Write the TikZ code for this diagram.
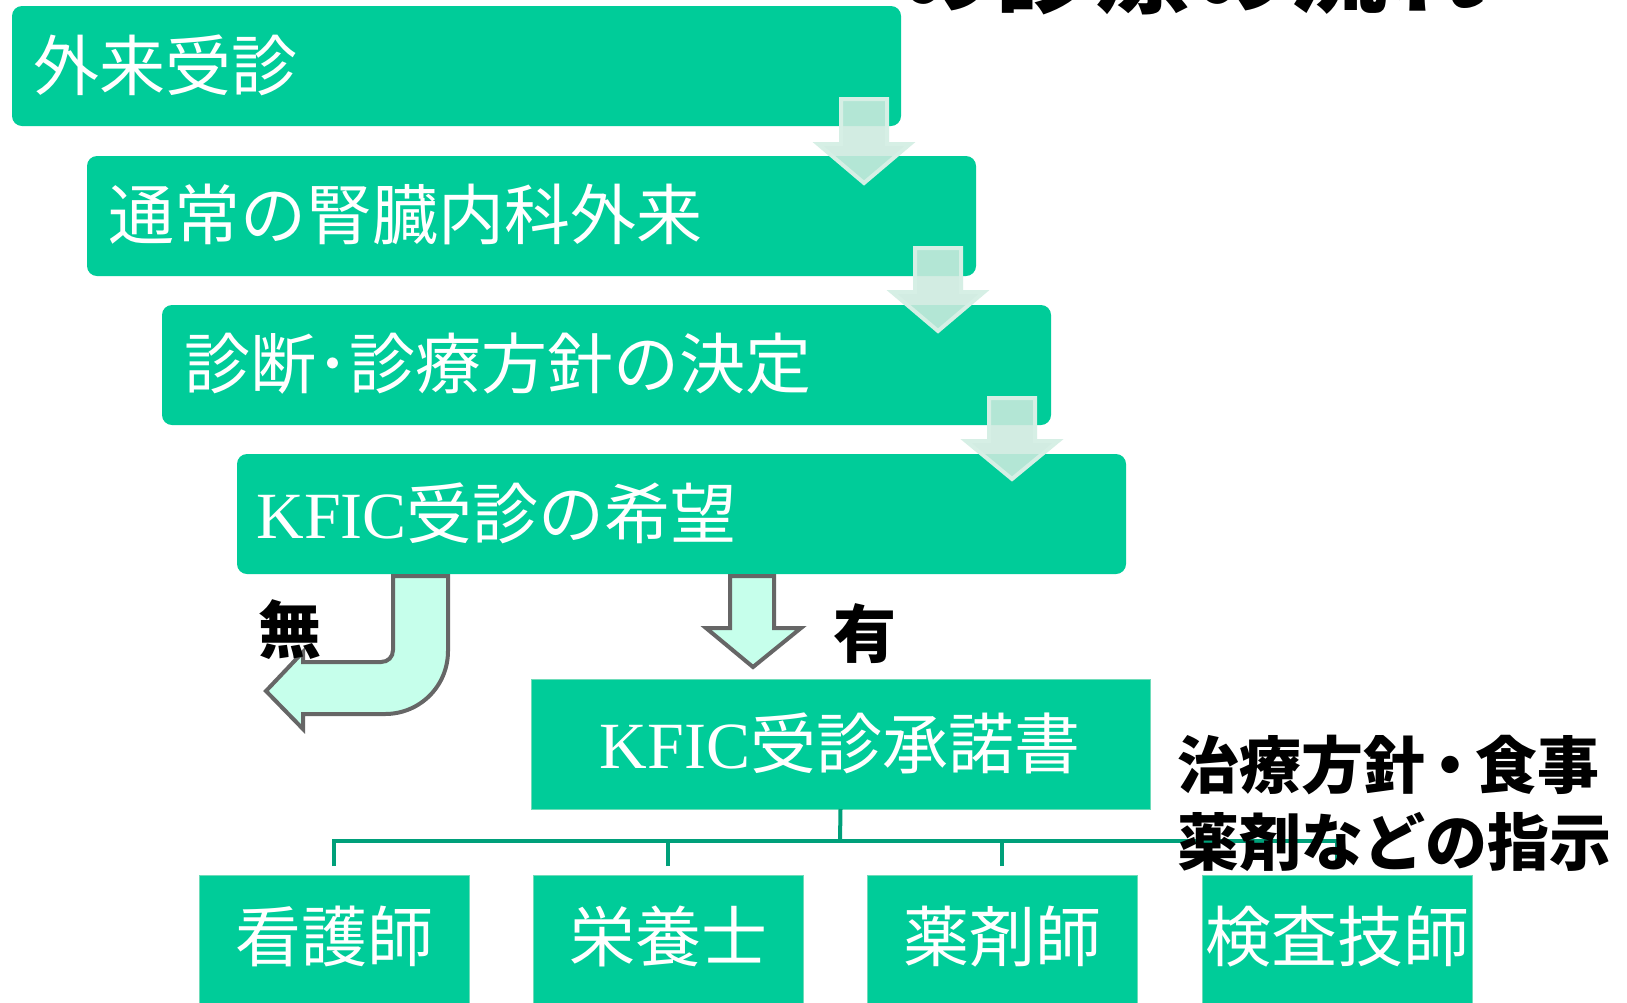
\documentclass[tikz,border=0pt]{standalone}
\usepackage{fontspec}
\newfontfamily\jp{Noto Sans CJK JP}
\newfontfamily\lat{Liberation Serif}
\definecolor{boxgreen}{RGB}{0,204,153}
\definecolor{boxedge}{RGB}{110,220,185}
\definecolor{linegreen}{RGB}{0,160,122}
\definecolor{flowfill}{RGB}{204,234,222}
\definecolor{flowedge}{RGB}{214,239,229}
\definecolor{mint}{RGB}{198,255,235}
\definecolor{arrowgray}{RGB}{102,102,102}
\newcommand\blockdownarrow[4]{%
  \path[flowarrow] (#1-23,#2) -- (#1+23,#2) -- (#1+23,#3) -- (#1+46,#3) -- (#1,#4) -- (#1-46,#3) -- (#1-23,#3) -- cycle;}
\newcommand\middot{\kern-0.1em・\kern-0.1em}
\begin{document}
\begin{tikzpicture}[x=0.5pt,y=-0.5pt,
  stepbox/.style={fill=boxgreen, rounded corners=5pt, draw=none, inner sep=0pt, outer sep=0pt,
    minimum width=444.5pt, minimum height=60pt, anchor=north west},
  flatbox/.style={fill=boxgreen, draw=boxedge, line width=0.5pt, inner sep=0pt, outer sep=0pt, anchor=north west},
  boxtext/.style={text=white, font=\jp\fontsize{33pt}{33pt}\selectfont, inner sep=0pt},
  blacklabel/.style={text=black, font=\jp\bfseries\fontsize{31.5pt}{31.5pt}\selectfont, inner sep=0pt},
  notetext/.style={text=black, font=\jp\bfseries\fontsize{31pt}{31pt}\selectfont, inner sep=0pt, anchor=base west},
  flowarrow/.style={fill=flowfill, fill opacity=0.88, draw=flowedge, line width=2pt, line join=miter},
  bigarrow/.style={fill=mint, draw=arrowgray, line width=2pt, line join=miter},
  conn/.style={draw=linegreen, line width=2pt}]
\useasboundingbox (0,0) rectangle (1627,1002);
\clip (0,0) rectangle (1627,1002);
\fill[white] (0,0) rectangle (1627,1002);

% clipped title
\node[anchor=base west, inner sep=0pt, font=\jp\bfseries\fontsize{49pt}{49pt}\selectfont] (title) at (897,5) {の診療の流れ};

% step boxes
\node[stepbox] (s1) at (12,6) {};
\node[stepbox] (s2) at (87,156) {};
\node[stepbox] (s3) at (162,305) {};
\node[stepbox] (s4) at (237,454) {};

\node[boxtext, anchor=base west] (s1t) at (33,90) {外来受診};
\node[boxtext, anchor=base west] (s2t) at (108,239) {通常の腎臓内科外来};
\node[boxtext, anchor=base west] (s3t) at (184,388) {診断･診療方針の決定};
\node[boxtext, anchor=base west] (s4t) at (256,538) {{\lat KFIC}受診の希望};

% flow arrows
\blockdownarrow{864}{99}{144}{183}
\blockdownarrow{938}{248}{292}{331}
\blockdownarrow{1012}{398}{441}{479}

% consent box
\node[flatbox, minimum width=309.5pt, minimum height=65pt] (s5) at (531,679) {};
\node[boxtext, anchor=base] (s5t) at (840,768) {{\lat KFIC}受診承諾書};

% staff boxes
\node[flatbox, minimum width=135pt, minimum height=70pt] (b1) at (199,875) {};
\node[flatbox, minimum width=135pt, minimum height=70pt] (b2) at (533,875) {};
\node[flatbox, minimum width=135pt, minimum height=70pt] (b3) at (867,875) {};
\node[flatbox, minimum width=135pt, minimum height=70pt] (b4) at (1202,875) {};
\node[boxtext, anchor=base] (b1t) at (334,961) {看護師};
\node[boxtext, anchor=base] (b2t) at (668,961) {栄養士};
\node[boxtext, anchor=base] (b3t) at (1002,961) {薬剤師};
\node[boxtext, anchor=base] (b4t) at (1337,961) {検査技師};

% org connectors
\coordinate (bus) at (840,841);
\draw[conn] (s5.south) -- (bus);
\draw[conn] ([yshift=4.5pt]b1.north) |- (b4.north |- bus) -- ([yshift=4.5pt]b4.north);
\draw[conn] ([yshift=4.5pt]b2.north) -- (b2.north |- bus);
\draw[conn] ([yshift=4.5pt]b3.north) -- (b3.north |- bus);

% yes / no arrows
\path[bigarrow] (393,576) -- (393,650) .. controls (393,657) and (388,662) .. (381,662)
  -- (303,662) -- (303,652) -- (266,691) -- (303,729) -- (303,714) -- (385,714)
  .. controls (420,714) and (448,686) .. (448,651) -- (448,576) -- cycle;
\path[bigarrow] (730,576) -- (730,628) -- (706,628) -- (753,667) -- (801,628) -- (774,628) -- (774,576) -- cycle;
\node[blacklabel, anchor=base] (no) at (290,653) {無};
\node[blacklabel, anchor=base] (yes) at (865,657) {有};

% note
\node[notetext] (note1) at (1177,788) {治療方針\middot 食事};
\node[notetext] (note2) at (1177,865) {薬剤などの指示};
\end{tikzpicture}
\end{document}
